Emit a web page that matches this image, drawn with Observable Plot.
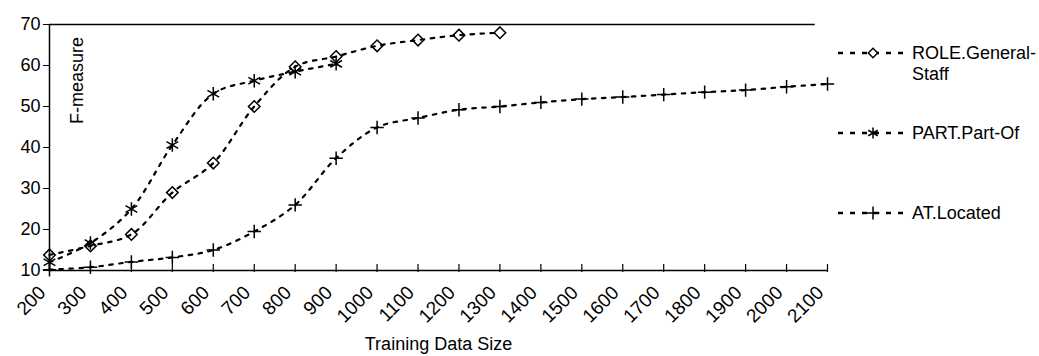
<!DOCTYPE html>
<html>
<head>
<meta charset="utf-8">
<script src="https://cdn.jsdelivr.net/npm/d3@7"></script>
<script src="https://cdn.jsdelivr.net/npm/@observablehq/plot@0.6"></script>
<style>
  html, body { margin: 0; padding: 0; background: #fff; }
  #chart { position: relative; width: 1039px; height: 356px; }
</style>
</head>
<body>
<div id="chart"></div>
<script>
const sizes = [200,300,400,500,600,700,800,900,1000,1100,1200,1300,1400,1500,1600,1700,1800,1900,2000,2100];
const seriesNames = ["ROLE.General-Staff", "PART.Part-Of", "AT.Located"];
const roleValues = [13.8, 16.0, 18.8, 29.0, 36.2, 50.0, 59.7, 62.2, 64.8, 66.2, 67.4, 68.0];
const partValues = [12.0, 16.7, 25.0, 40.6, 53.1, 56.3, 58.5, 60.4];
const atValues = [10.2, 10.8, 12.1, 13.2, 15.0, 19.5, 26.0, 37.4, 44.9, 47.2, 49.2, 50.0, 51.0, 51.8, 52.3, 52.9, 53.5, 54.0, 54.8, 55.5];
const yTicks = [10, 20, 30, 40, 50, 60, 70];
const xLabel = "Training Data Size";
const yLabel = "F-measure";

const allValues = [roleValues, partValues, atValues];
const data = [];
allValues.forEach((vals, s) => vals.forEach((v, i) => data.push({series: seriesNames[s], size: sizes[i], value: v})));

const symbols = ["diamond2", "asterisk", "plus"];
const radii = [5.2, 6.4, 4.4];
const dash = "3.5,6.5";
const FONT = "'Liberation Sans', Arial, sans-serif";

const dotMarks = seriesNames.map((name, s) =>
  Plot.dot(data.filter(d => d.series === name), {
    x: "size", y: "value", symbol: () => symbols[s], r: radii[s],
    stroke: "black", strokeWidth: 1.5, fill: "none"
  })
);

const chart = Plot.plot({
  width: 1039,
  height: 356,
  marginLeft: 49,
  marginRight: 212,
  marginTop: 24,
  marginBottom: 86,
  style: {fontFamily: FONT, fontSize: "18px", color: "black", background: "white", overflow: "visible"},
  x: {type: "linear", domain: [200, 2100]},
  y: {domain: [10, 70]},
  symbol: {type: "identity"},
  marks: [
    Plot.ruleY([70], {x1: 200, x2: 2070, stroke: "black", strokeWidth: 1.5}),
    Plot.ruleY([10], {x1: 200, x2: 2100, stroke: "black", strokeWidth: 1.5}),
    Plot.ruleX([200], {y1: 10, y2: 70, stroke: "black", strokeWidth: 1.5}),
    Plot.ruleX(sizes, {x: d => d, y1: 10, y2: 10, insetTop: -6, insetBottom: -2, stroke: "black", strokeWidth: 1.2}),
    Plot.axisY({ticks: yTicks, tickSize: 6, tickPadding: 3, fontSize: 18, label: null, tickFormat: d => String(d)}),
    Plot.axisX({ticks: sizes, tickSize: 0, tickPadding: 12, tickRotate: -45, fontSize: 19, label: null, dx: -7, dy: 7, tickFormat: d => String(d)}),
    Plot.line(data, {x: "size", y: "value", z: "series", stroke: "black", strokeWidth: 2.2, strokeDasharray: dash, curve: "catmull-rom"}),
    ...dotMarks,
    Plot.text([xLabel], {text: d => d, frameAnchor: "bottom", dy: 74, fontSize: 18, lineAnchor: "middle"}),
    Plot.text([yLabel], {text: d => d, frameAnchor: "top-left", dx: 28, dy: 56, rotate: -90, fontSize: 18, textAnchor: "middle", lineAnchor: "middle"})
  ]
});

document.getElementById("chart").appendChild(chart);

// Legend (drawn into the same SVG, right margin)
const svg = d3.select(chart);
const lg = svg.append("g").attr("font-family", FONT).attr("font-size", 18).attr("text-anchor", "start");
const rows = [
  {y: 53, lines: ["ROLE.General-", "Staff"]},
  {y: 133, lines: ["PART.Part-Of"]},
  {y: 213, lines: ["AT.Located"]}
];
const legendR = [4.2, 5.2, 4.2];
rows.forEach((row, s) => {
  lg.append("line").attr("x1", 838).attr("x2", 908).attr("y1", row.y).attr("y2", row.y)
    .attr("stroke", "black").attr("stroke-width", 2.5).attr("stroke-dasharray", "5,7");
  const sym = {diamond2: d3.symbolDiamond2, asterisk: d3.symbolAsterisk, plus: d3.symbolPlus}[symbols[s]];
  lg.append("path").attr("d", d3.symbol(sym, Math.PI * legendR[s] * legendR[s])())
    .attr("transform", `translate(873,${row.y})`).attr("fill", "white").attr("stroke", "black").attr("stroke-width", 1.5);
  const t = lg.append("text").attr("x", 912).attr("y", row.y).attr("text-anchor", "start");
  row.lines.forEach((ln, k) => t.append("tspan").attr("x", 912).attr("dy", k === 0 ? "0.35em" : "1.17em").text(ln));
});
</script>
</body>
</html>
